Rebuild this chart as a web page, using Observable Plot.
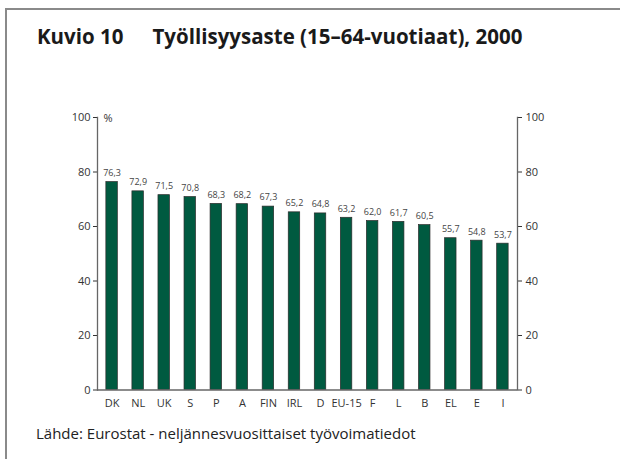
<!DOCTYPE html>
<html>
<head>
<meta charset="utf-8">
<script src="https://cdn.jsdelivr.net/npm/d3@7"></script>
<script src="https://cdn.jsdelivr.net/npm/@observablehq/plot@0.6"></script>
<style>
  html, body { margin: 0; padding: 0; background: #fff; }
  #wrap { position: relative; width: 620px; height: 459px; overflow: hidden; font-family: "Open Sans", sans-serif; }
  #frame { position: absolute; left: 5px; top: 8px; width: 640px; height: 480px; border-left: 2px solid #8a8a8a; border-top: 2px solid #8a8a8a; box-sizing: border-box; }
  #title { position: absolute; left: 37px; top: 26px; font-size: 20.5px; line-height: 1; font-weight: 700; color: #1a1a1a; white-space: nowrap; }
  #title span + span { margin-left: 29px; }
  #chart { position: absolute; left: 0; top: 60px; }
  #caption { position: absolute; left: 36px; top: 423px; font-size: 15px; color: #222; white-space: nowrap; }
</style>
</head>
<body>
<div id="wrap">
  <div id="frame"></div>
  <div id="title"><span>Kuvio 10</span><span>Työllisyysaste (15–64-vuotiaat), 2000</span></div>
  <div id="chart"></div>
  <div id="caption">Lähde: Eurostat - neljännesvuosittaiset työvoimatiedot</div>
</div>
<script>
const countries = ["DK","NL","UK","S","P","A","FIN","IRL","D","EU-15","F","L","B","EL","E","I"];
const rates = [76.3,72.9,71.5,70.8,68.3,68.2,67.3,65.2,64.8,63.2,62.0,61.7,60.5,55.7,54.8,53.7];
const yTicks = [0,20,40,60,80,100];

const data = countries.map((c, i) => ({country: c, rate: rates[i]}));
const fmt = v => v.toFixed(1).replace(".", ",");

const chart = Plot.plot({
  width: 620,
  height: 360,
  marginLeft: 97,
  marginRight: 103,
  marginTop: 57,
  marginBottom: 30.5,
  style: {fontFamily: "'Open Sans', sans-serif", color: "#333", background: "transparent"},
  x: {domain: countries, paddingInner: 0.56, paddingOuter: 0.34, round: false, label: null},
  y: {domain: [0, 100], label: null},
  marks: [
    Plot.barY(data, {x: "country", y: "rate", fill: "#005a40", stroke: "#2b2b2b", strokeWidth: 0.7}),
    Plot.text(data, {x: "country", y: "rate", text: d => fmt(d.rate), dy: -9, fontSize: 9, fill: "#444"}),
    Plot.axisX({tickSize: 0, tickPadding: 9, fontSize: 11, fill: "#333", label: null}),
    Plot.axisY({anchor: "left", ticks: yTicks, tickSize: 4, tickPadding: 3, fontSize: 11, fill: "#333", stroke: "#333", label: null}),
    Plot.axisY({anchor: "right", ticks: yTicks, tickSize: 4, tickPadding: 4, fontSize: 11, fill: "#333", stroke: "#333", label: null}),
    Plot.frame({anchor: "left", stroke: "#666", strokeWidth: 1.3}),
    Plot.frame({anchor: "right", stroke: "#666", strokeWidth: 1.3}),
    Plot.ruleY([0], {stroke: "#666", strokeWidth: 1.3}),
    Plot.text(["%"], {frameAnchor: "top-left", dx: 6, dy: 1, lineAnchor: "middle", fontSize: 11, fill: "#333", textAnchor: "start"})
  ]
});
document.getElementById("chart").appendChild(chart);
</script>
</body>
</html>
